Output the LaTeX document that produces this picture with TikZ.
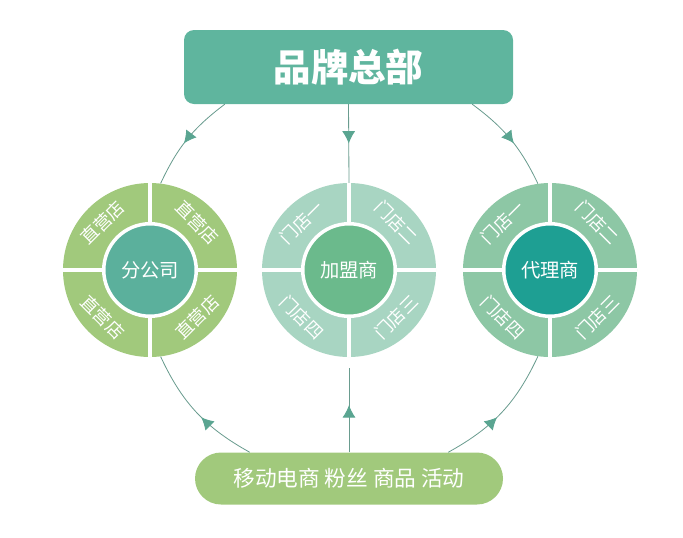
\documentclass[tikz,border=0pt]{standalone}
\usepackage{fontspec}
\newfontfamily\cjk{Noto Sans CJK SC}
\usetikzlibrary{arrows.meta,positioning,calc,decorations.markings}
\definecolor{hqgreen}{HTML}{5FB59E}
\definecolor{leafgreen}{HTML}{A1C97C}
\definecolor{fenteal}{HTML}{5BB09C}
\definecolor{mintouter}{HTML}{A8D5C2}
\definecolor{jmgreen}{HTML}{6BBA8C}
\definecolor{sageouter}{HTML}{8DC7A5}
\definecolor{dlteal}{HTML}{1E9F93}
\definecolor{linkgray}{HTML}{6A9C8F}
\definecolor{tipteal}{HTML}{5AA591}

\begin{document}
\begin{tikzpicture}[x=0.3mm,y=0.3mm,font=\cjk,
  hub/.style={rounded corners=3mm,fill=hqgreen,text=white,minimum width=98.7mm,minimum height=22.2mm,font=\cjk\bfseries\fontsize{32}{36}\selectfont},
  ring/.style={circle,minimum size=52.2mm,inner sep=0pt},
  core/.style={circle,draw=white,line width=1.05mm,minimum size=27.75mm,inner sep=0pt,text=white,font=\cjk\fontsize{16.5}{18}\selectfont},
  quad/.style={text=white,font=\cjk\fontsize{15}{17}\selectfont,inner sep=0pt},
  pill/.style={rounded corners=7.8mm,fill=leafgreen,text=white,minimum width=92.4mm,minimum height=15.6mm,font=\cjk\fontsize{18.5}{20}\selectfont},
  link/.style={draw=linkgray,line width=0.7pt},
  tipat/.style={postaction={decorate},decoration={markings,mark=at position #1 with {\arrow[tipteal]{Latex[length=3.7mm,width=3.9mm]}}}}]
\useasboundingbox (0,0) rectangle (683,-537);
\node[hub] (hq) at (348.5,-67) {品牌总部};
% three circles
\node[ring,fill=leafgreen] (fen) at (150,-270) {};
\node[ring,fill=mintouter] (jm) at (349,-270) {};
\node[ring,fill=sageouter] (dl) at (550,-270) {};
\foreach \r in {fen,jm,dl}
  \draw[white,line width=1.2mm] (\r.north) -- (\r.south) (\r.west) -- (\r.east);
\node[core,fill=fenteal] (fenc) at (fen) {分公司};
\node[core,fill=jmgreen] (jmc) at (jm) {加盟商};
\node[core,fill=dlteal] (dlc) at (dl) {代理商};
\foreach \a/\t/\rot in {135/直营店/45,45/直营店/-45,225/直营店/-45,315/直营店/45}
  \node[quad,rotate=\rot] at ($(fen)+(\a:67)$) {\t};
\foreach \a/\t/\rot in {135/门店一/45,45/门店二/-45,225/门店四/-45,315/门店三/45}
  \node[quad,rotate=\rot] at ($(jm)+(\a:67)$) {\t};
\foreach \a/\t/\rot in {135/门店一/45,45/门店二/-45,225/门店四/-45,315/门店三/45}
  \node[quad,rotate=\rot] at ($(dl)+(\a:67)$) {\t};
\node[pill] (act) at (349,-478.5) {移动电商 粉丝 商品 活动};
% connectors
\draw[link,tipat=0.55] ([xshift=12.3mm]hq.south west) to[bend right=14] (fen.83);
\draw[link,tipat=0.5] (hq.south) -- (jm.north);
\draw[link,tipat=0.55] ([xshift=-12.3mm]hq.south east) to[bend left=14] (dl.98.6);
\draw[link,tipat=0.45] ([xshift=16.5mm]act.north west) to[bend left=18] (fen.-83);
\draw[link,tipat=0.56] (act.north) -- ([yshift=-3.3mm]jm.south);
\draw[link,tipat=0.45] ([xshift=-16.5mm]act.north east) to[bend right=18] (dl.-98.6);
\end{tikzpicture}
\end{document}
